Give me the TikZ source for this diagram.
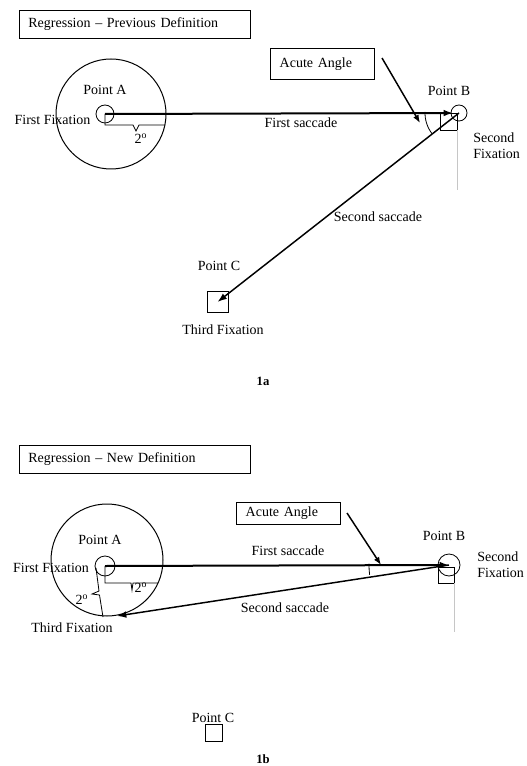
\documentclass[tikz,border=0pt]{standalone}
\usepackage{fontspec}
\setmainfont{Liberation Serif}
\usetikzlibrary{arrows.meta, positioning}
\tikzset{
  zone/.style={draw, circle, line width=0.75pt, inner sep=0pt},
  fix/.style={draw, circle, line width=0.6pt, inner sep=0pt, minimum size=13.5pt},
  target/.style={draw, rectangle, line width=0.6pt, inner sep=0pt, minimum size=12.75pt},
  titlebox/.style={draw, line width=0.6pt, anchor=north west, align=left, inner xsep=6.75pt, text width=159.75pt, minimum height=21pt},
  anglebox/.style={draw, line width=0.6pt, anchor=north west, align=left, inner xsep=7pt, text width=64pt},
  saccade/.style={-{Latex[length=7pt, width=5pt]}, line width=1.5pt},
  saccadeb/.style={-{Latex[length=7pt, width=5pt]}, line width=1.1pt},
  pointer/.style={-{Latex[length=6pt, width=4.5pt]}, line width=1.1pt},
  mark line/.style={line width=0.6pt},
  guide/.style={gray!45, thin},
  txt/.style={inner sep=0pt, align=left},
  caption/.style={inner sep=0pt, font=\bfseries\fontsize{9.5}{11}\selectfont},
  every node/.style={font=\fontsize{10.5}{12}\selectfont}
}
\newcommand{\twodeg}{2\textsuperscript{o}}

\begin{document}
\begin{tikzpicture}[x=0.75pt, y=-0.75pt]
    \useasboundingbox (0,0) rectangle (526,766);

    % 1a
    \node[titlebox, minimum width=173.25pt] (title1) at (19,10) {Regression -- Previous Definition};
    \node[zone, minimum size=82.5pt] (zoneA1) at (111,114) {};
    \node[fix] (fixA1) at (105,114) {};
    \node[fix, minimum size=12pt] (fixB1) at (459,113) {};
    \node[target] (sqB1) at (448.5,121.5) {};
    \node[target, minimum size=15.75pt] (sqC1) at (217.5,302) {};
    \node[anglebox, minimum height=23.25pt] (acute1) at (270,48) {Acute Angle};
    \coordinate (acuteTail1) at (382,58);
    \coordinate (acuteTip1) at (420,123);

    \draw[saccade, shorten >=4.5pt] (fixA1.center) -- (fixB1.center);
    \draw[saccadeb] (fixB1.center) -- (sqC1.center);
    \draw[pointer] (acuteTail1) -- (acuteTip1);
    \draw[mark line] ([shift={(182:34)}]fixB1.center) arc[start angle=182, end angle=142, radius=34];
    \draw[guide] (sqB1.south east) -- ++(0,60);
    \draw[mark line] (fixA1.center) -- (105,125) -- (133,125) -- (136,131) -- (139,125) -- (165,125);

    \node[txt] (labA1) at (105,90) {Point A};
    \node[txt] (labFF1) at (52.5,120) {First Fixation};
    \node[txt] (labFS1) at (301,123) {First saccade};
    \node[txt] (labB1) at (449,91) {Point B};
    \node[txt, anchor=west] (labSF1) at (473,146) {Second\\Fixation};
    \node[txt] (labSS1) at (378,217) {Second saccade};
    \node[txt] (labC1) at (219,266) {Point C};
    \node[txt] (labTF1) at (223,330) {Third Fixation};
    \node[txt] (deg1) at (141,139) {\twodeg};
    \node[caption] (cap1) at (263,381) {1a};

    % 1b
    \node[titlebox, minimum width=173.25pt] (title2) at (19,445) {Regression -- New Definition};
    \node[zone, minimum size=84pt] (zoneA2) at (107,560) {};
    \node[fix, minimum size=15pt] (fixA2) at (105,566) {};
    \node[fix, minimum size=16.5pt] (fixB2) at (449,565) {};
    \node[target, minimum size=12pt] (sqB2) at (446,575) {};
    \node[target] (sqC2) at (213.5,732.5) {};
    \node[anglebox, minimum height=16.5pt] (acute2) at (236,502) {Acute Angle};
    \coordinate (acuteTail2) at (347,513);
    \coordinate (acuteTip2) at (381,565);
    \coordinate (fixC2) at (117,616);

    \draw[saccade] (fixA2.center) -- (fixB2.center);
    \draw[saccadeb] (fixB2.center) -- (fixC2);
    \draw[pointer] (acuteTail2) -- (acuteTip2);
    \draw[mark line] ([shift={(181:80)}]fixB2.center) arc[start angle=181, end angle=173, radius=80];
    \draw[guide] (sqB2.south east) -- ++(0,49);
    \draw[mark line] (fixA2.center) -- (105,583) -- (131,583) -- (132,590) -- (133,583) -- (158,583);
    \draw[mark line] (96,568) -- (99,591) -- (92,594) -- (99.5,595) -- (103,617);

    \node[txt] (labA2) at (100,540) {Point A};
    \node[txt] (labFF2) at (51,568) {First Fixation};
    \node[txt] (labFS2) at (288,551) {First saccade};
    \node[txt] (labB2) at (444,536) {Point B};
    \node[txt, anchor=west] (labSF2) at (477,565) {Second\\Fixation};
    \node[txt] (labSS2) at (285,608) {Second saccade};
    \node[txt] (labTF2) at (72,628) {Third Fixation};
    \node[txt] (labC2) at (213,718) {Point C};
    \node[txt] (deg2a) at (141,588) {\twodeg};
    \node[txt] (deg2b) at (82,600) {\twodeg};
    \node[caption] (cap2) at (263,759) {1b};
\end{tikzpicture}
\end{document}
